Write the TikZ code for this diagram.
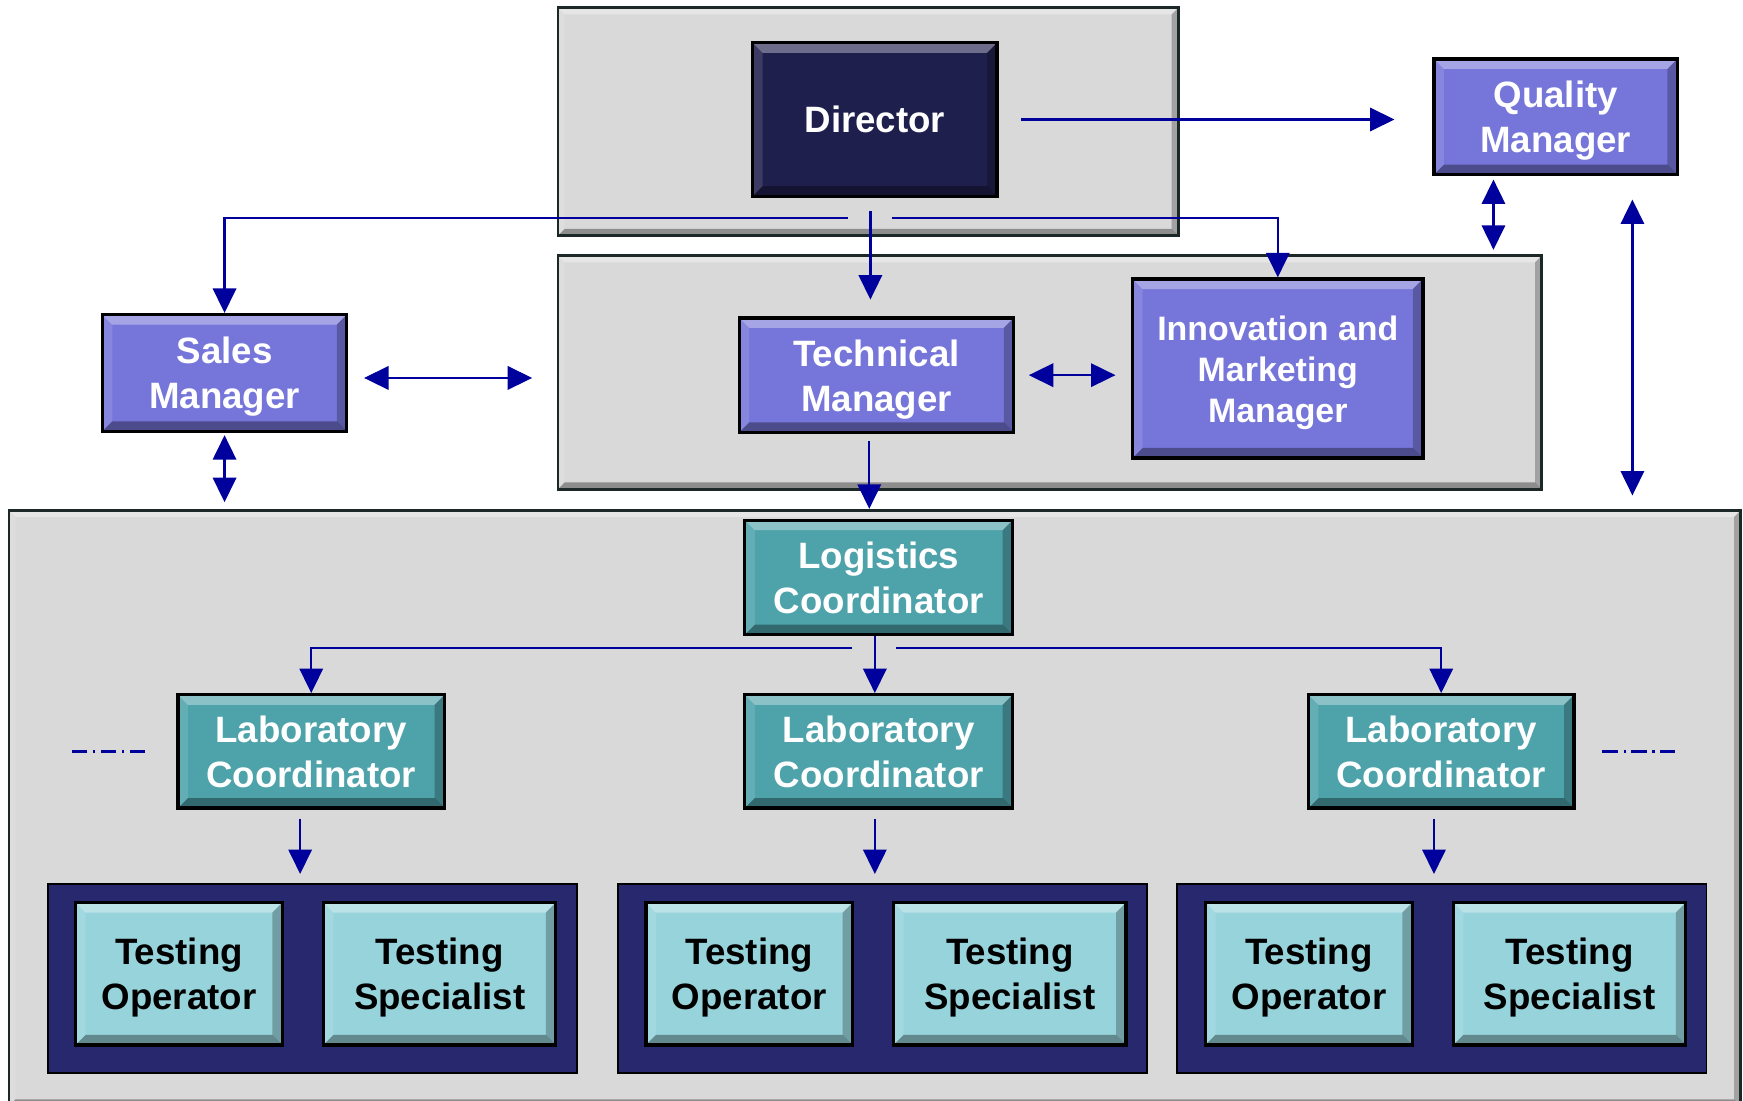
\documentclass[tikz,border=0pt]{standalone}
\usepackage{fontspec}
\setmainfont{Liberation Sans}
\usetikzlibrary{arrows.meta,positioning}
\definecolor{panelgray}{HTML}{D9D9D9}
\definecolor{paneledge}{HTML}{1C2828}
\definecolor{dirnavy}{HTML}{1F1F4D}
\definecolor{mgrpurple}{HTML}{7676DA}
\definecolor{coordteal}{HTML}{4EA2AA}
\definecolor{testcyan}{HTML}{96D3DB}
\definecolor{groupnavy}{HTML}{28286F}
\definecolor{linkblue}{HTML}{00009C}

\tikzset{
  bevel/.style={path picture={
    \fill[white,opacity=.35] (path picture bounding box.north west) -- (path picture bounding box.north east)
      -- ([xshift=-#1,yshift=-#1]path picture bounding box.north east) -- ([xshift=#1,yshift=-#1]path picture bounding box.north west) -- cycle;
    \fill[white,opacity=.12] (path picture bounding box.north west) -- (path picture bounding box.south west)
      -- ([xshift=#1,yshift=#1]path picture bounding box.south west) -- ([xshift=#1,yshift=-#1]path picture bounding box.north west) -- cycle;
    \fill[black,opacity=.35] (path picture bounding box.south west) -- (path picture bounding box.south east)
      -- ([xshift=-#1,yshift=#1]path picture bounding box.south east) -- ([xshift=#1,yshift=#1]path picture bounding box.south west) -- cycle;
    \fill[black,opacity=.25] (path picture bounding box.north east) -- (path picture bounding box.south east)
      -- ([xshift=-#1,yshift=#1]path picture bounding box.south east) -- ([xshift=-#1,yshift=-#1]path picture bounding box.north east) -- cycle;
  }},
  panel/.style={draw=paneledge, line width=2.5pt, fill=panelgray, inner sep=0pt, bevel=6pt},
  group/.style={draw=black, line width=1.5pt, fill=groupnavy, inner sep=0pt},
  box/.style={draw=black, line width=3pt, inner sep=0pt, align=center,
    font=\bfseries\fontsize{33}{40.5}\selectfont, bevel=9pt,
    text height=73.5pt, text depth=9pt},
  head/.style={box, fill=dirnavy, text=white, text height=33pt},
  mgr/.style={box, fill=mgrpurple, text=white},
  coord/.style={box, fill=coordteal, text=white},
  tester/.style={box, fill=testcyan, text=black, minimum height=128pt},
  link/.style={draw=linkblue, line width=2pt},
  dashdot/.style={link, dash pattern=on 14pt off 5pt on 2pt off 5pt}
}

\begin{document}
\begin{tikzpicture}[x=1pt,y=-1pt,>={Triangle[length=22pt,width=21pt]},on grid]
  \useasboundingbox (0,0) rectangle (1568,990);

  % grey and navy panels
  \node[panel, minimum width=558pt,  minimum height=205pt] (toppanel)  at (781,109.5) {};
  \node[panel, minimum width=885pt,  minimum height=210pt] (midpanel)  at (944.5,335) {};
  \node[panel, minimum width=1558pt, minimum height=536pt] (basepanel) at (787,727)   {};
  \node[group, minimum width=476pt, minimum height=170pt] (group1) at (281,880)  {};
  \node[group, minimum width=476pt, minimum height=170pt] (group2) at (794,880)  {};
  \node[group, minimum width=476pt, minimum height=170pt] (group3) at (1297,880) {};

  % managers
  \node[head, minimum width=220pt, minimum height=138pt] (director)   at (787,107.5)    {Director};
  \node[mgr,  minimum width=219pt, minimum height=104pt] (quality)    at (1399.5,105)   {Quality\\Manager};
  \node[mgr,  minimum width=220pt, minimum height=105pt] (sales)      at (202,335.5)    {Sales\\Manager};
  \node[mgr,  minimum width=247pt, minimum height=103pt] (technical)  at (788.5,337.5)  {Technical\\Manager};
  \node[mgr,  minimum width=261pt, minimum height=161pt, font=\bfseries\fontsize{30.5}{37}\selectfont, text height=106.4pt]
                                                         (innovation) at (1149.5,331.5) {Innovation and\\Marketing\\Manager};

  % coordinators
  \node[coord, minimum width=241pt, minimum height=103pt] (logistics) at (790.5,519.5) {Logistics\\Coordinator};
  \node[coord, minimum width=240pt, minimum height=102pt] (lab1) at (280,676)          {Laboratory\\Coordinator};
  \node[coord, minimum width=241pt, minimum height=102pt] (lab2) [right=510.5pt of lab1] {Laboratory\\Coordinator};
  \node[coord, minimum width=239pt, minimum height=102pt] (lab3) [right=506pt of lab2]   {Laboratory\\Coordinator};

  % testing staff
  \node[tester, minimum width=186pt] (op1)   at (161,876)            {Testing\\Operator};
  \node[tester, minimum width=209pt] (spec1) [right=234.5pt of op1] {Testing\\Specialist};
  \node[tester, minimum width=186pt] (op2)   at (674,876)            {Testing\\Operator};
  \node[tester, minimum width=209pt] (spec2) [right=234.5pt of op2] {Testing\\Specialist};
  \node[tester, minimum width=186pt] (op3)   at (1177.5,876)         {Testing\\Operator};
  \node[tester, minimum width=209pt] (spec3) [right=234.5pt of op3] {Testing\\Specialist};

  % split below the director
  \coordinate (dirstem)  at (783,190);
  \coordinate (dirleft)  at (763,196);
  \coordinate (dirright) at (802,196);
  \draw[link,->,shorten >=15pt] (dirstem) -- (dirstem |- technical.north);
  \draw[link,->] (dirleft) -| (sales.north);
  \draw[link,->] (dirright) -| (innovation.north);
  \draw[link,->,shorten <=20pt,shorten >=34pt] (director.east) -- (director.east -| quality.west);

  % two-way links
  \coordinate (salesout) at ([yshift=-4.5pt]sales.east);
  \draw[link,<->,shorten <=14pt,shorten >=22pt] (salesout) -- (salesout -| midpanel.west);
  \draw[link,<->,shorten <=12pt,shorten >=14pt] (technical.east) -- (technical.east -| innovation.west);
  \draw[link,<->,shorten <=2pt,shorten >=6pt] (sales.south) -- (sales.south |- basepanel.north);
  \coordinate (qualityleft)  at ([xshift=55pt]quality.south west);
  \coordinate (qualityright) at ([xshift=-42pt]quality.south east);
  \draw[link,<->,shorten <=3pt,shorten >=4pt] (qualityleft) -- (qualityleft |- midpanel.north);
  \draw[link,<->,shorten <=21pt,shorten >=12pt] (qualityright) -- (qualityright |- basepanel.north);

  % technical manager down to the laboratory panel
  \coordinate (techstem) at ([xshift=-6.5pt]technical.south);
  \draw[link,->,shorten <=6pt] (techstem) -- (techstem |- basepanel.north);

  % split below logistics
  \coordinate (logleft)  at (766,583);
  \coordinate (logright) at (806,583);
  \draw[link,->] ([xshift=-3.5pt]logistics.south) -- ([xshift=-3.5pt]lab2.north);
  \draw[link,->] (logleft) -| (lab1.north);
  \draw[link,->] (logright) -| (lab3.north);

  % laboratories down to their testers
  \draw[link,->,shorten <=8pt,shorten >=8pt] ([xshift=-10pt]lab1.south) -- ([xshift=-11pt]group1.north);
  \draw[link,->,shorten <=8pt,shorten >=8pt] ([xshift=-3.5pt]lab2.south) -- ([xshift=-7pt]group2.north);
  \draw[link,->,shorten <=8pt,shorten >=8pt] ([xshift=-6.5pt]lab3.south) -- ([xshift=-7pt]group3.north);

  % more laboratories
  \draw[dashdot] (lab1.west) ++(-28,0) -- ++(-66,0);
  \draw[dashdot] (lab3.east) ++(24,0) -- ++(65,0);
\end{tikzpicture}
\end{document}
